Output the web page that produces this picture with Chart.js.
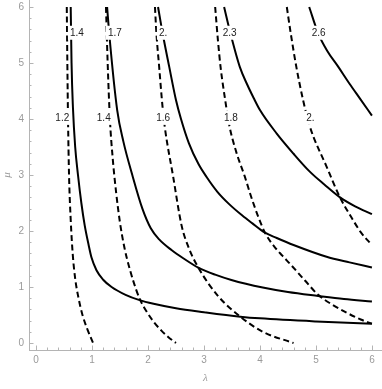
<!DOCTYPE html>
<html>
<head>
<meta charset="utf-8">
<script src="https://cdn.jsdelivr.net/npm/chart.js@4/dist/chart.umd.min.js"></script>
<style>
html,body{margin:0;padding:0;background:#fff;}
#wrap{width:382px;height:389px;position:relative;}
</style>
</head>
<body>
<div id="wrap"><canvas id="c"></canvas></div>
<script>
// ---- data (λ, μ) ----
const solid14 = [[0.62,6],[0.635,5.0],[0.66,4.2],[0.70,3.5],[0.75,3.0],[0.81,2.5],[0.87,2.1],[0.94,1.75],[0.99,1.53],[1.08,1.3],[1.2,1.13],[1.35,1.0],[1.6,0.86],[1.85,0.765],[2.1,0.70],[2.5,0.62],[3.0,0.55],[3.65,0.47],[4.0,0.44],[5.0,0.385],[6.0,0.345]];
const solid17 = [[1.27,6],[1.31,5.5],[1.45,4.16],[1.56,3.6],[1.72,3.0],[1.9,2.4],[2.05,2.05],[2.2,1.85],[2.42,1.66],[2.65,1.5],[2.9,1.345],[3.2,1.22],[3.49,1.125],[4.05,0.99],[4.5,0.91],[5.04,0.84],[5.5,0.785],[6.0,0.74]];
const solid20 = [[2.18,6],[2.26,5.54],[2.38,4.93],[2.5,4.34],[2.59,4.0],[2.73,3.57],[2.9,3.2],[3.05,2.96],[3.24,2.7],[3.45,2.48],[3.68,2.28],[3.86,2.14],[4.09,1.97],[4.3,1.875],[4.6,1.75],[5.19,1.54],[5.6,1.44],[6.0,1.35]];
const solid23 = [[3.36,6],[3.47,5.54],[3.64,4.93],[3.77,4.62],[3.89,4.37],[4.0,4.16],[4.3,3.74],[4.6,3.38],[4.89,3.06],[5.15,2.83],[5.43,2.6],[5.7,2.44],[6.0,2.3]];
const solid26 = [[4.88,6],[5.04,5.53],[5.2,5.22],[5.4,4.93],[5.6,4.63],[5.79,4.36],[6.0,4.06]];
const dashed12 = [[0.55,6],[0.56,5.0],[0.572,4.0],[0.59,3.0],[0.62,2.2],[0.655,1.6],[0.7,1.15],[0.76,0.8],[0.83,0.5],[0.92,0.24],[1.02,0.0]];
const dashed14 = [[1.25,6],[1.28,5.0],[1.32,4.0],[1.37,3.3],[1.43,2.7],[1.5,2.15],[1.58,1.7],[1.68,1.3],[1.79,0.95],[1.86,0.77],[1.97,0.57],[2.1,0.38],[2.24,0.22],[2.37,0.1],[2.5,0.0]];
const dashed16 = [[2.125,6],[2.15,5.54],[2.2,4.93],[2.26,4.22],[2.3,3.86],[2.45,2.97],[2.6,2.1],[2.72,1.72],[2.9,1.345],[3.26,0.83],[3.65,0.47],[4.05,0.2],[4.6,0.0]];
const dashed18 = [[3.2,6],[3.25,5.4],[3.3,4.9],[3.37,4.4],[3.45,3.9],[3.58,3.4],[3.73,2.97],[3.84,2.62],[3.96,2.28],[4.09,1.97],[4.25,1.73],[4.4,1.56],[4.54,1.41],[4.8,1.12],[5.04,0.86],[5.3,0.68],[5.55,0.54],[5.8,0.42],[6.0,0.345]];
const dashed20 = [[4.48,6],[4.55,5.53],[4.65,4.93],[4.77,4.34],[4.88,3.9],[5.19,3.15],[5.43,2.6],[5.63,2.25],[5.8,1.98],[6.0,1.75]];

const solidCurves = [solid14, solid17, solid20, solid23, solid26];
const dashedCurves = [dashed12, dashed14, dashed16, dashed18, dashed20];

const solidLabels = ['1.4','1.7','2.','2.3','2.6'];
const solidLabelLam = [0.73,1.41,2.27,3.46,5.05];
const solidLabelMu = 5.54;
const dashedLabels = ['1.2','1.4','1.6','1.8','2.'];
const dashedLabelLam = [0.47,1.21,2.27,3.48,4.9];
const dashedLabelMu = 4.02;

const majorTicks = [0,1,2,3,4,5,6];
const xTitle = 'λ';
const yTitle = 'μ';

// ---- build chart ----
const toPts = arr => arr.map(p => ({x:p[0], y:p[1]}));
const datasets = [];
solidCurves.forEach(c => datasets.push({data:toPts(c), borderColor:'#000', borderWidth:2, pointRadius:0, showLine:true, cubicInterpolationMode:'monotone', fill:false}));
dashedCurves.forEach(c => datasets.push({data:toPts(c), borderColor:'#000', borderWidth:2, borderDash:[6,3.5], pointRadius:0, showLine:true, cubicInterpolationMode:'monotone', fill:false}));

const minorVals = [];
for (let i = 0; i <= 30; i++) minorVals.push(Math.round(i*2)/10);

const GRAY = '#9a9a9a';
const AXIS = '#b4b4b4';
const FONT = '"Liberation Sans", Arial, sans-serif';

const overlay = {
  id:'overlay',
  afterDatasetsDraw(chart){
    const ctx = chart.ctx, xs = chart.scales.x, ys = chart.scales.y, ca = chart.chartArea;
    ctx.save();
    ctx.font = '10px ' + FONT;
    ctx.textAlign = 'center'; ctx.textBaseline = 'middle';
    const drawLab = (t, lx, ly) => {
      const px = xs.getPixelForValue(lx), py = ys.getPixelForValue(ly);
      const w = ctx.measureText(t).width;
      ctx.fillStyle = '#fff';
      ctx.fillRect(px - w/2 - 2, py - 7, w + 4, 14);
      ctx.fillStyle = '#222';
      ctx.fillText(t, px, py);
    };
    solidLabels.forEach((t,i) => drawLab(t, solidLabelLam[i], solidLabelMu));
    dashedLabels.forEach((t,i) => drawLab(t, dashedLabelLam[i], dashedLabelMu));
    // inward tick marks
    ctx.strokeStyle = AXIS; ctx.lineWidth = 1;
    minorVals.forEach(v => {
      const major = Math.abs(v - Math.round(v)) < 1e-6;
      const len = major ? 4.5 : 2.5;
      const px = Math.round(xs.getPixelForValue(v)) + 0.5;
      ctx.beginPath(); ctx.moveTo(px, ca.bottom); ctx.lineTo(px, ca.bottom - len); ctx.stroke();
      const py = Math.round(ys.getPixelForValue(v)) + 0.5;
      ctx.beginPath(); ctx.moveTo(ca.left, py); ctx.lineTo(ca.left + len, py); ctx.stroke();
    });
    // axis titles
    ctx.fillStyle = GRAY;
    ctx.font = 'italic 11px "Liberation Serif", "DejaVu Serif", serif';
    ctx.fillText(xTitle, (ca.left + ca.right)/2, 378);
    ctx.translate(7, (ca.top + ca.bottom)/2);
    ctx.rotate(-Math.PI/2);
    ctx.fillText(yTitle, 0, 0);
    ctx.restore();
  }
};

new Chart(document.getElementById('c'), {
  type:'scatter',
  data:{datasets},
  options:{
    responsive:true, maintainAspectRatio:false, animation:false,
    layout:{padding:0},
    plugins:{legend:{display:false}, tooltip:{enabled:false}},
    scales:{
      x:{type:'linear', min:-0.125, max:6.18,
        afterBuildTicks(s){ s.ticks = majorTicks.map(v => ({value:v})); },
        afterFit(s){ s.height = 39; s.paddingLeft = 0; s.paddingRight = 0; },
        grid:{display:false, drawTicks:false},
        border:{display:true, color:AXIS, width:1},
        ticks:{color:GRAY, padding:4, font:{size:10, family:FONT}, callback:v => String(v), maxRotation:0, autoSkip:false}
      },
      y:{type:'linear', min:-0.125, max:6.125,
        afterBuildTicks(s){ s.ticks = majorTicks.map(v => ({value:v})); },
        afterFit(s){ s.width = 29; s.paddingTop = 0; s.paddingBottom = 0; },
        grid:{display:false, drawTicks:false},
        border:{display:true, color:AXIS, width:1},
        ticks:{color:GRAY, padding:5, font:{size:10, family:FONT}, callback:v => String(v), autoSkip:false}
      }
    }
  },
  plugins:[overlay]
});
</script>
</body>
</html>
